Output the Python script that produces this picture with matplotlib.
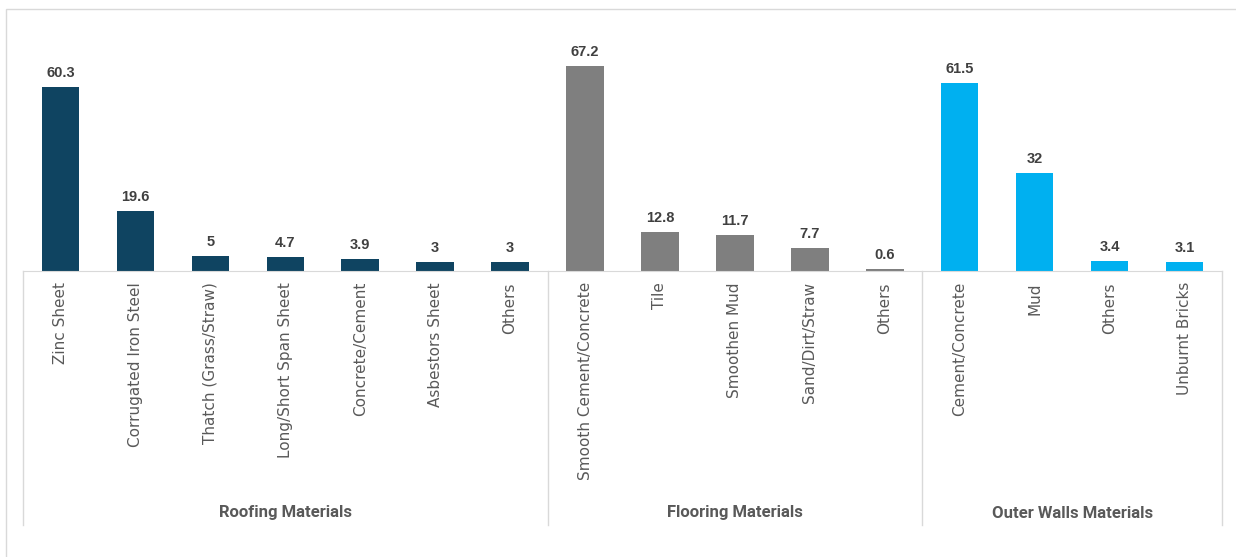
import matplotlib.pyplot as plt
from matplotlib.patches import Rectangle
import matplotlib.transforms as mtransforms

# data
roofing = ['Zinc Sheet', 'Corrugated Iron Steel', 'Thatch (Grass/Straw)', 'Long/Short Span Sheet',
           'Concrete/Cement', 'Asbestors Sheet', 'Others']
roofing_vals = [60.3, 19.6, 5, 4.7, 3.9, 3, 3]
flooring = ['Smooth Cement/Concrete', 'Tile', 'Smoothen Mud', 'Sand/Dirt/Straw', 'Others']
flooring_vals = [67.2, 12.8, 11.7, 7.7, 0.6]
walls = ['Cement/Concrete', 'Mud', 'Others', 'Unburnt Bricks']
walls_vals = [61.5, 32, 3.4, 3.1]
groups = ['Roofing Materials', 'Flooring Materials', 'Outer Walls Materials']
colors = ['#0f4461', '#7f7f7f', '#00b0f0']

W, H = 1236, 557
fig = plt.figure(figsize=(W / 100, H / 100), dpi=100)
ax = fig.add_axes([23 / W, (H - 271) / H, (1222 - 23) / W, 219.6 / H])

labels = roofing + flooring + walls
vals = roofing_vals + flooring_vals + walls_vals
cols = [colors[0]] * len(roofing) + [colors[1]] * len(flooring) + [colors[2]] * len(walls)
x = list(range(len(labels)))

bars = ax.bar(x, vals, width=0.5, color=cols)
for b, v in zip(bars, vals):
    ax.annotate(f'{v:g}', (b.get_x() + b.get_width() / 2, v), xytext=(0, 5),
                textcoords='offset points', ha='center', va='bottom',
                fontsize=10.5, fontweight='bold', color='#404040', family='Liberation Sans')

ax.set_xlim(-0.5, len(labels) - 0.5)
ax.set_ylim(0, 72)
ax.set_yticks([])
ax.set_xticks(x)
ax.set_xticklabels(labels, rotation=90, fontsize=11, color='#595959', family='DejaVu Sans')
ax.tick_params(axis='x', length=0, pad=8)
for s in ['top', 'right', 'left']:
    ax.spines[s].set_visible(False)
ax.spines['bottom'].set_color('#d9d9d9')

# group separators and group labels below the axis
trans = mtransforms.blended_transform_factory(ax.transData, ax.transAxes)
sizes = [len(roofing), len(flooring), len(walls)]
bottom = -(525 - 271) / 219.6
label_y = -(513 - 271) / 219.6
edges = [-0.5]
for s in sizes:
    edges.append(edges[-1] + s)
for e in edges:
    ax.plot([e, e], [0, bottom], transform=trans, color='#d9d9d9', lw=1, clip_on=False)
for g, a, b in zip(groups, edges[:-1], edges[1:]):
    ax.text((a + b) / 2, label_y, g, transform=trans, ha='center', va='center',
            fontsize=12, fontweight='bold', color='#595959', family='Roboto')

# light border of the screenshot
fig.patches.append(Rectangle((6 / W, -0.05), 1.1, (H - 9) / H + 0.05, transform=fig.transFigure,
                             fill=False, edgecolor='#d9d9d9', lw=1))

fig.savefig('out.png', dpi=100)
